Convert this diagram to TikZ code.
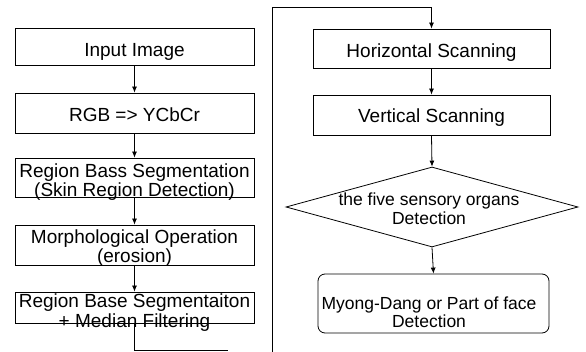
\documentclass[tikz,border=0pt]{standalone}
\usepackage{fontspec}
\setmainfont{Liberation Sans}
\usetikzlibrary{shapes.geometric,arrows.meta}
\begin{document}
\begin{tikzpicture}[x=1pt,y=-1pt,
  box/.style={draw,line width=0.8pt,inner sep=0pt,minimum width=#1},
  box/.default=239pt,
  txt/.style={anchor=base,inner sep=0pt,font=\fontsize{19}{19}\selectfont},
  stxt/.style={anchor=base,inner sep=0pt,font=\fontsize{17.5}{19}\selectfont},
  conn/.style={line width=0.8pt},
  arr/.style={line width=0.8pt,-{Latex[length=6pt,width=5pt]}}]
\useasboundingbox (0,0) rectangle (586,352);
% left column boxes
\node[box,minimum height=37pt] (b1) at (134.5,46.5) {};
\node[box,minimum height=40pt] (b2) at (134.5,113) {};
\node[box,minimum height=39pt] (b3) at (134.5,177.5) {};
\node[box,minimum height=40pt] (b4) at (134.5,245) {};
\node[box,minimum height=31pt] (b5) at (134.5,307.5) {};
% left texts
\node[txt] (t1) at (134.5,57) {Input Image};
\node[txt] (t2) at (134.5,122) {RGB =\textgreater{} YCbCr};
\node[txt] (t3a) at (134.5,178) {Region Bass Segmentation};
\node[txt] (t3b) at (134.5,197) {(Skin Region Detection)};
\node[txt] (t4a) at (134.5,244) {Morphological Operation};
\node[txt] (t4b) at (134.5,263) {(erosion)};
\node[txt] (t5a) at (134.5,308) {Region Base Segmentaiton};
\node[txt] (t5b) at (134.5,327) {+ Median Filtering};
% right column
\node[box=237pt,minimum height=39pt] (h) at (431.5,48.5) {};
\node[box=237pt,minimum height=40pt] (v) at (431.5,115) {};
\node[draw,line width=0.8pt,diamond,inner sep=0pt,minimum width=292pt,minimum height=80pt] (d) at (432,207) {};
\node[draw,line width=0.8pt,rounded corners=7pt,inner sep=0pt,minimum width=231pt,minimum height=59pt] (r) at (433.5,303.5) {};
\node[txt] (th) at (431.5,58) {Horizontal Scanning};
\node[txt] (tv) at (431.5,123) {Vertical Scanning};
\node[stxt] (tda) at (429,206) {the five sensory organs};
\node[stxt] (tdb) at (429,225) {Detection};
\node[stxt] (tra) at (429,310) {Myong-Dang or Part of face};
\node[stxt] (trb) at (429,328) {Detection};
% connectors
\draw[arr] (b1) -- (b2);
\draw[arr] (b2) -- (b3);
\draw[arr] (b3) -- (b4);
\draw[arr] (b4) -- (b5);
\coordinate (c1) at (228,350);
\coordinate (c2) at (272,352);
\coordinate (c3) at (272,7);
\draw[conn] (b5.south) |- (c1);
\draw[arr] (c2) -- (c3) -| (h.north);
\draw[arr] (h) -- (v);
\draw[arr] (v.south) -- (d.north);
\draw[arr] (d.south) -- (r.north);
\end{tikzpicture}
\end{document}
